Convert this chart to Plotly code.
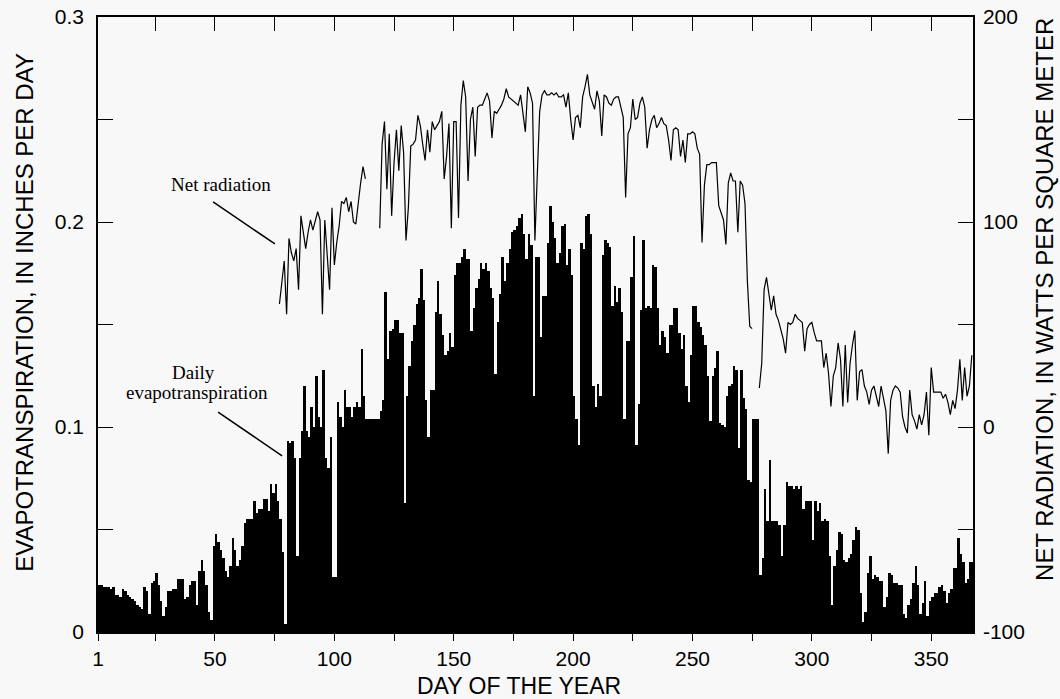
import plotly.graph_objects as go

# ---------------- data ----------------
days = list(range(1, 368))

et_in_per_day = [
    0.023, 0.023, 0.022, 0.022, 0.022, 0.021, 0.022, 0.018, 0.018, 0.017,
    0.021, 0.020, 0.018, 0.017, 0.016, 0.015, 0.013, 0.012, 0.011, 0.022,
    0.020, 0.009, 0.024, 0.025, 0.029, 0.023, 0.015, 0.008, 0.012, 0.020,
    0.020, 0.021, 0.021, 0.026, 0.026, 0.026, 0.016, 0.017, 0.023, 0.025,
    0.025, 0.013, 0.030, 0.035, 0.030, 0.023, 0.010, 0.006, 0.042, 0.048,
    0.044, 0.040, 0.036, 0.030, 0.027, 0.032, 0.046, 0.040, 0.032, 0.035,
    0.042, 0.053, 0.055, 0.055, 0.055, 0.064, 0.058, 0.060, 0.060, 0.065,
    0.065, 0.059, 0.072, 0.068, 0.072, 0.064, 0.055, 0.039, 0.004, 0.093,
    0.092, 0.093, 0.085, 0.037, 0.085, 0.098, 0.120, 0.098, 0.095, 0.110,
    0.100, 0.125, 0.105, 0.100, 0.128, 0.085, 0.080, 0.095, 0.027, 0.027,
    0.112, 0.105, 0.100, 0.118, 0.110, 0.110, 0.105, 0.110, 0.112, 0.110,
    0.138, 0.115, 0.104, 0.104, 0.104, 0.104, 0.104, 0.104, 0.108, 0.113,
    0.166, 0.133, 0.147, 0.148, 0.152, 0.152, 0.146, 0.146, 0.063, 0.115,
    0.130, 0.142, 0.150, 0.160, 0.163, 0.177, 0.162, 0.113, 0.095, 0.118,
    0.118, 0.156, 0.171, 0.155, 0.145, 0.135, 0.137, 0.146, 0.139, 0.174,
    0.180, 0.180, 0.183, 0.187, 0.182, 0.182, 0.147, 0.158, 0.168, 0.172,
    0.180, 0.177, 0.180, 0.176, 0.168, 0.163, 0.126, 0.151, 0.165, 0.183,
    0.171, 0.180, 0.187, 0.195, 0.196, 0.198, 0.202, 0.204, 0.194, 0.182,
    0.194, 0.189, 0.115, 0.183, 0.183, 0.144, 0.164, 0.164, 0.190, 0.208,
    0.200, 0.192, 0.180, 0.185, 0.198, 0.199, 0.179, 0.187, 0.174, 0.115,
    0.104, 0.091, 0.190, 0.187, 0.203, 0.204, 0.194, 0.120, 0.110, 0.121,
    0.115, 0.184, 0.191, 0.190, 0.188, 0.159, 0.169, 0.161, 0.168, 0.156,
    0.104, 0.142, 0.142, 0.173, 0.193, 0.091, 0.111, 0.157, 0.191, 0.158,
    0.159, 0.158, 0.179, 0.178, 0.158, 0.140, 0.147, 0.144, 0.136, 0.150,
    0.150, 0.158, 0.158, 0.146, 0.138, 0.145, 0.120, 0.112, 0.135, 0.159,
    0.159, 0.151, 0.149, 0.145, 0.140, 0.125, 0.103, 0.125, 0.129, 0.137,
    0.102, 0.101, 0.100, 0.115, 0.120, 0.121, 0.130, 0.128, 0.090, 0.128,
    0.114, 0.109, 0.074, 0.073, 0.104, 0.104, 0.104, 0.028, 0.036, 0.070,
    0.054, 0.084, 0.054, 0.054, 0.054, 0.052, 0.037, 0.052, 0.073, 0.071,
    0.071, 0.070, 0.071, 0.070, 0.071, 0.060, 0.064, 0.064, 0.064, 0.045,
    0.064, 0.059, 0.063, 0.054, 0.055, 0.054, 0.037, 0.013, 0.032, 0.040,
    0.049, 0.048, 0.035, 0.034, 0.036, 0.038, 0.045, 0.051, 0.050, 0.019,
    0.005, 0.010, 0.029, 0.037, 0.026, 0.028, 0.027, 0.025, 0.025, 0.012,
    0.017, 0.029, 0.028, 0.024, 0.024, 0.023, 0.023, 0.009, 0.007, 0.013,
    0.016, 0.024, 0.032, 0.023, 0.009, 0.014, 0.025, 0.008, 0.015, 0.017,
    0.019, 0.019, 0.022, 0.023, 0.020, 0.014, 0.019, 0.021, 0.031, 0.031,
    0.046, 0.038, 0.034, 0.024, 0.026, 0.034, 0.034,
]

rad_days = list(range(77, 368))
net_radiation = [
    60, 72, 81, 55, 92, 85, 81, 87, 67, 103,            # 77-86
    95, 87, 95, 101, 96, 100, 105, 101, 55, 101,        # 87-96
    85, 67, 107, 79, 90, 98, 110, 109, 112, 105,        # 97-106
    110, 100, 99, 110, 119, 127, 121,                   # 107-113
    None, None, None, None, None,                       # 114-118
    97, 138, 149, 116, 143, 103, 129,                   # 119-125
    145, 125, 147, 134, 91, 107, 137, 138, 140, 152,    # 126-135
    147, 138, 130, 145, 134, 149, 145, 147, 149, 154,   # 136-145
    121, 132, 148, 97, 149, 149, 102, 157, 169, 161,    # 146-155
    120, 150, 156, 132, 156, 157, 157, 160, 163, 159,   # 156-165
    141, 154, 153, 155, 157, 160, 165, 161, 160, 159,   # 166-175
    158, 157, 162, 152, 144, 166, 163, 158, 91, 123,    # 176-185
    154, 162, 164, 162, 162, 163, 162, 163, 161, 161,   # 186-195
    162, 156, 163, 150, 140, 151, 152, 146, 161, 166,   # 196-205
    172, 162, 159, 155, 164, 159, 142, 162, 161, 158,   # 206-215
    157, 160, 161, 161, 156, 151, 112, 143, 146, 160,   # 216-225
    150, 151, 158, 161, 156, 136, 145, 150, 152, 146,   # 226-235
    148, 151, 148, 147, 140, 130, 145, 146, 145, 132,   # 236-245
    140, 129, 143, 143, 144, 143, 136, 133, 90, 118,    # 246-255
    128, 128, 129, 129, 129, 108, 104, 101, 89, 119,    # 256-265
    124, 120, 120, 95, 120, 118, 109, 71, 49, 48,       # 266-275
    None, None,                                         # 276-277
    19, 31, 67, 73, 65, 57, 64, 55, 52, 47,             # 278-287
    43, 36, 51, 50, 51, 55, 53, 52, 51, 37,             # 288-297
    48, 50, 51, 46, 42, 42, 42, 29, 36, 26,             # 298-307
    10, 25, 29, 41, 33, 10, 40, 12, 31, 40,             # 308-317
    47, 13, 27, 28, 20, 17, 11, 18, 20, 15,             # 318-327
    10, 20, 14, 8, -13, 13, 18, 20, 19, 17,             # 328-337
    5, 0, -3, 18, 6, 3, -1, 6, 1, 6,                    # 338-347
    17, -4, 29, 17, 17, 17, 17, 14, 16, 12,             # 348-357
    6, 13, 9, 18, 33, 13, 29, 15, 20, 35,               # 358-367
]

x_tickvals = [1, 25, 50, 75, 100, 125, 150, 175, 200, 225, 250, 275, 300, 325, 350]
x_ticktext = ["1", "", "50", "", "100", "", "150", "", "200", "", "250", "", "300", "", "350"]
et_tickvals = [0, 0.05, 0.1, 0.15, 0.2, 0.25, 0.3]
et_ticktext = ["0", "", "0.1", "", "0.2", "", "0.3"]
rad_tickvals = [-100, -50, 0, 50, 100, 150, 200]
rad_ticktext = ["-100", "", "0", "", "100", "", "200"]

# ---------------- figure ----------------
SANS = "Liberation Sans, Arial, Helvetica, sans-serif"
SERIF = "Liberation Serif, Times New Roman, serif"
BG = "#f8f8f8"
XRANGE = [1, 367.5]

fig = go.Figure()
fig.add_trace(go.Bar(
    x=days, y=et_in_per_day, offset=0, width=1,
    marker=dict(color="black", line=dict(width=0)),
    showlegend=False, hoverinfo="x+y",
))
fig.add_trace(go.Scatter(
    x=rad_days, y=net_radiation, mode="lines",
    line=dict(color="black", width=1.2),
    connectgaps=False, xaxis="x2", yaxis="y2", showlegend=False,
))

axis_common = dict(showgrid=False, zeroline=False, showline=True, automargin=False,
                   linecolor="black", linewidth=1.5, tickcolor="black",
                   tickwidth=1.3, tickfont=dict(family=SANS, size=21, color="black"))

fig.update_layout(
    width=1060, height=699,
    margin=dict(l=98, r=87, t=17, b=67, autoexpand=False),
    paper_bgcolor=BG, plot_bgcolor=BG,
    bargap=0,
    xaxis=dict(range=XRANGE, tickmode="array", tickvals=x_tickvals, ticktext=x_ticktext,
               ticks="outside", ticklen=7, **axis_common),
    xaxis2=dict(range=XRANGE, overlaying="x", side="top", anchor="y2",
                tickmode="array", tickvals=x_tickvals, showticklabels=False,
                ticks="inside", ticklen=14, **axis_common),
    yaxis=dict(range=[0, 0.3], tickmode="array", tickvals=et_tickvals, ticktext=et_ticktext,
               ticks="inside", ticklen=15, ticklabelstandoff=8, ticklabeloverflow="allow",
               **axis_common),
    yaxis2=dict(range=[-100, 200], overlaying="y", side="right", anchor="x2",
                tickmode="array", tickvals=rad_tickvals, ticktext=rad_ticktext,
                ticks="inside", ticklen=15, ticklabelstandoff=4, ticklabeloverflow="allow",
                **axis_common),
)

# axis titles
fig.add_annotation(text="EVAPOTRANSPIRATION, IN INCHES PER DAY", xref="paper", yref="paper",
                   x=-0.0834, y=0.519, textangle=-90, showarrow=False,
                   xanchor="center", yanchor="middle",
                   font=dict(family=SANS, size=24, color="black"))
fig.add_annotation(text="NET RADIATION, IN WATTS PER SQUARE METER", xref="paper", yref="paper",
                   x=1.0823, y=0.54, textangle=-90, showarrow=False,
                   xanchor="center", yanchor="middle",
                   font=dict(family=SANS, size=24, color="black"))
fig.add_annotation(text="DAY OF THE YEAR", xref="paper", yref="paper",
                   x=0.481, y=-0.088, showarrow=False,
                   xanchor="center", yanchor="middle",
                   font=dict(family=SANS, size=23, color="black"))

# in-plot labels
fig.add_annotation(text="Net radiation", xref="x", yref="y", x=52.5, y=0.2185,
                   showarrow=False, xanchor="center", yanchor="middle",
                   font=dict(family=SERIF, size=19, color="black"))
fig.add_annotation(text="Daily", xref="x", yref="y", x=41.2, y=0.1268,
                   showarrow=False, xanchor="center", yanchor="middle",
                   font=dict(family=SERIF, size=19, color="black"))
fig.add_annotation(text="evapotranspiration", xref="x", yref="y", x=42.5, y=0.1166,
                   showarrow=False, xanchor="center", yanchor="middle",
                   font=dict(family=SERIF, size=19, color="black"))

# leader lines
fig.add_shape(type="line", xref="x", yref="y", x0=49.2, y0=0.2098, x1=75.1, y1=0.1893,
              line=dict(color="black", width=1.5))
fig.add_shape(type="line", xref="x", yref="y", x0=51.3, y0=0.1073, x1=78.1, y1=0.0859,
              line=dict(color="black", width=1.5))

# remove the default 8px page margin so the figure fills the window exactly
fig.write_html("out.html",
               config={"displayModeBar": False},
               post_script="document.body.style.margin='0';"
                           "document.body.style.background='#f8f8f8';")
